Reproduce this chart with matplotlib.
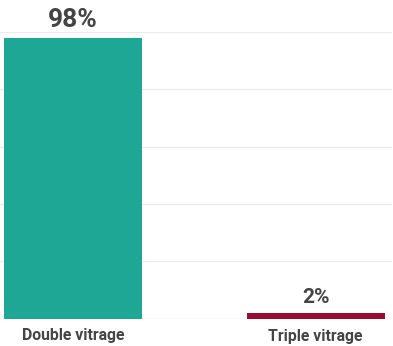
import matplotlib.pyplot as plt

categories = ['Double vitrage', 'Triple vitrage']
values = [98, 2]
value_labels = ['98%', '2%']
colors = ['#1fa796', '#9b0a31']

plt.rcParams['font.family'] = ['Roboto', 'DejaVu Sans']

fig = plt.figure(figsize=(3.93, 3.46), dpi=100)
ax = fig.add_axes([0, 1 - 318.5 / 346, 392 / 393, (318.5 - 32) / 346])

x = range(len(categories))
bars = ax.bar(x, values, width=0.569, color=colors, zorder=2)
ax.set_xlim(-0.301, 1.315)
ax.set_ylim(0, 100)
ax.set_yticks([0, 20, 40, 60, 80, 100])
ax.grid(axis='y', color='#ebebeb', linewidth=1, zorder=0)
ax.set_xticks([])
ax.tick_params(left=False, labelleft=False)
for s in ax.spines.values():
    s.set_visible(False)

# value labels on top of bars
label_sizes = [19, 15]
label_gaps = [11, 10]
for i, (v, lab) in enumerate(zip(values, value_labels)):
    ax.annotate(lab, (i, v), xytext=(0, label_gaps[i]), textcoords='offset pixels',
                ha='center', va='baseline', fontsize=label_sizes[i],
                fontweight='bold', color='#444444')

# category labels under the bars
cat_offsets = [-21.5, -23]
for i, cat in enumerate(categories):
    ax.annotate(cat, (i, 0), xytext=(0, cat_offsets[i]), textcoords='offset pixels',
                ha='center', va='baseline', fontsize=11.3,
                fontweight='bold', color='#444444')

fig.savefig('out.png', dpi=100)
